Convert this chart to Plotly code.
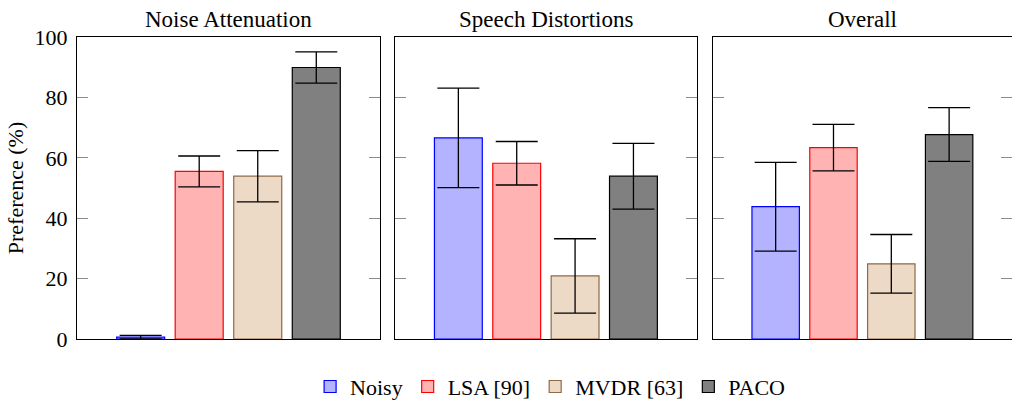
import plotly.graph_objects as go

# Listening-test preference results, one value per panel
panels = ["Noise Attenuation", "Speech Distortions", "Overall"]
methods = ["Noisy", "LSA [90]", "MVDR [63]", "PACO"]

noisy = [0.6, 66.6, 43.8]
noisy_err = [0.6, 16.5, 14.7]
lsa = [55.5, 58.2, 63.4]
lsa_err = [5.1, 7.2, 7.7]
mvdr = [53.9, 20.9, 24.9]
mvdr_err = [8.5, 12.3, 9.7]
paco = [89.9, 53.9, 67.7]
paco_err = [5.2, 10.9, 8.9]

y_ticks = [0, 20, 40, 60, 80, 100]

values = [noisy, lsa, mvdr, paco]
errors = [noisy_err, lsa_err, mvdr_err, paco_err]
fills = ["#b3b3ff", "#ffb3b3", "#ecd9c6", "#808080"]
edges = ["#0000ff", "#ff0000", "#8f6a45", "#000000"]

FONT = "'Liberation Serif', 'DejaVu Serif', serif"
domains = [(0.0, 0.324), (0.340, 0.663), (0.680, 1.0)]

fig = go.Figure()
for p, panel in enumerate(panels):
    suffix = "" if p == 0 else str(p + 1)
    for m, name in enumerate(methods):
        fig.add_trace(go.Bar(
            x=[panel], y=[values[m][p]], name=name,
            legendgroup=name, showlegend=(p == 0),
            marker=dict(color=fills[m], line=dict(color=edges[m], width=1.2)),
            error_y=dict(type="data", array=[errors[m][p]], visible=True,
                         color="#000000", thickness=1.3, width=21),
            xaxis="x" + suffix, yaxis="y" + suffix,
        ))

layout = dict(
    width=1012, height=403,
    margin=dict(l=77, r=0, t=37, b=64, autoexpand=False),
    paper_bgcolor="white", plot_bgcolor="white",
    barmode="group", bargap=0.227, bargroupgap=0.18,
    font=dict(family=FONT, size=22, color="#000000"),
    legend=dict(orientation="h", x=0.506, xanchor="center", y=-0.158,
                yanchor="middle", font=dict(family=FONT, size=22),
                itemwidth=30, tracegroupgap=0),
    annotations=[],
)

for p, panel in enumerate(panels):
    suffix = "" if p == 0 else str(p + 1)
    layout["xaxis" + suffix] = dict(
        domain=list(domains[p]), anchor="y" + suffix,
        showticklabels=False, ticks="", showgrid=False, zeroline=False,
        showline=True, linecolor="#000000", linewidth=1.2, mirror=True,
        fixedrange=True,
    )
    layout["yaxis" + suffix] = dict(
        anchor="x" + suffix, range=[0, 100], tickvals=y_ticks,
        showticklabels=(p == 0), ticks="inside", ticklen=11,
        tickcolor="#8c8c8c", tickwidth=1.2,
        showgrid=False, zeroline=False,
        showline=True, linecolor="#000000", linewidth=1.2, mirror="ticks",
        tickfont=dict(family=FONT, size=22),
        ticklabelstandoff=4,
        title=dict(text="Preference (%)", font=dict(family=FONT, size=22),
                   standoff=4) if p == 0 else None,
    )
    layout["annotations"].append(dict(
        text=panel, x=sum(domains[p]) / 2, xref="paper", xanchor="center",
        y=1.0, yref="paper", yanchor="bottom", yshift=3, showarrow=False,
        font=dict(family=FONT, size=23),
    ))

fig.update_layout(**layout)
fig.write_html("out.html")
